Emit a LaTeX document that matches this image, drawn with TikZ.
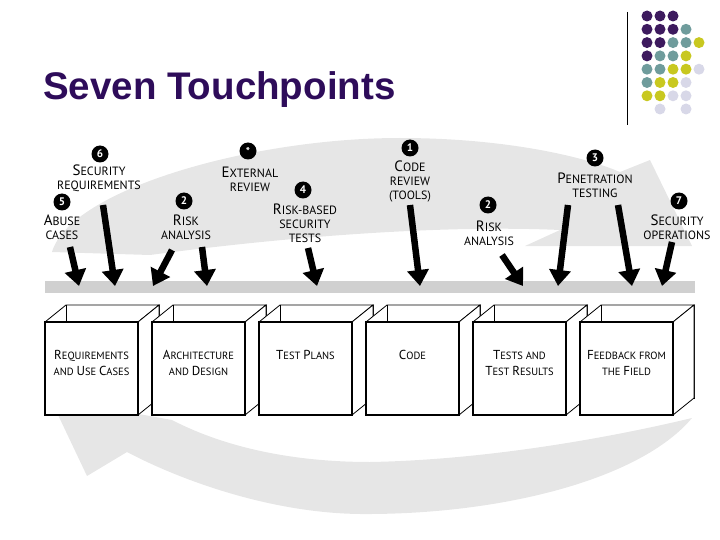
\documentclass[tikz,border=0pt]{standalone}
\usepackage{fontspec}
\newfontfamily\arialf{Liberation Sans}
\newfontfamily\labf{PT Sans}
\usetikzlibrary{arrows.meta}
\definecolor{pur}{HTML}{3D1A5E}
\definecolor{tpur}{HTML}{2E0C5A}
\definecolor{tea}{HTML}{6F9C9C}
\definecolor{yel}{HTML}{C8C820}
\definecolor{lav}{HTML}{D8D8E8}
\definecolor{band}{HTML}{E6E6E6}
\definecolor{bar}{HTML}{D0D0D0}
\newcommand{\I}[1]{{\fontsize{15}{14}\selectfont #1}}
\newcommand{\J}[1]{{\fontsize{13}{14}\selectfont #1}}
\begin{document}
\begin{tikzpicture}[x=1pt,y=-1pt,
  lab/.style={font=\labf\fontsize{12}{14}\selectfont, align=center, inner sep=0pt},
  blab/.style={font=\labf\fontsize{10.5}{16}\selectfont, align=center, inner sep=0pt},
  num/.style={circle, fill=black, text=white, inner sep=0pt, minimum size=17pt, font=\labf\bfseries\fontsize{11}{11}\selectfont},
  blk/.style={line width=6.5pt, -{Triangle[length=16pt,width=21pt]}},
  dot/.style={circle, inner sep=0pt, minimum size=11pt}]
\useasboundingbox (0,0) rectangle (720,540);
% title
\node[anchor=base west, text=tpur, inner sep=0pt, font=\arialf\bfseries\fontsize{38.5}{38}\selectfont] (title) at (43,100) {Seven Touchpoints};
\draw[line width=0.8pt] (627,12) -- (627,125);
% dots
\foreach \r/\row in {0/{pur,pur,pur},1/{pur,pur,pur,tea},2/{pur,pur,tea,tea,yel},3/{pur,tea,tea,yel},4/{tea,tea,yel,yel,lav},5/{tea,yel,yel,lav},6/{yel,yel,lav,lav}}{
  \foreach \c [count=\i from 0] in \row {
    \node[dot, fill=\c] (d\r\i) at (647+13*\i,16+13.3*\r) {};
  }
}
\node[dot, fill=lav] (d71) at (660,109) {};
\node[dot, fill=lav] (d73) at (686,109) {};
% big gray loop arrows
\fill[band] (52,252) .. controls (70,190) and (250,138) .. (400,138)
  .. controls (500,138) and (580,155) .. (620,172) -- (650,160) -- (692,246) -- (525,246)
  -- (560,230) .. controls (450,225) and (300,235) .. (150,255) -- cycle;
\fill[band] (692,418) .. controls (640,480) and (500,515) .. (360,514)
  .. controls (270,513) and (180,480) .. (127,452) -- (87,476) -- (50,398) -- (172,420)
  .. controls (230,450) and (300,462) .. (370,462)
  .. controls (480,460) and (600,440) .. (692,418) -- cycle;
% bar
\fill[bar] (45,281) rectangle (695,293);
% boxes
\foreach \x/\t [count=\k] in {45/{\J{R}EQUIREMENTS\\AND \J{U}SE \J{C}ASES},152/{\J{A}RCHITECTURE\\AND \J{D}ESIGN},259/{\J{T}EST \J{P}LANS\\\mbox{}},366/{\J{C}ODE\\\mbox{}},473/{\J{T}ESTS AND\\\J{T}EST \J{R}ESULTS},580/{\J{F}EEDBACK FROM\\THE \J{F}IELD}}{
  \filldraw[fill=bar!60, line width=0.8pt] (\x+21,305) rectangle (\x+114,398);
  \filldraw[fill=white, line width=0.8pt] (\x,322) -- (\x+21,305) -- (\x+114,305) -- (\x+93,322) -- cycle;
  \filldraw[fill=white, line width=0.8pt] (\x+93,322) -- (\x+114,305) -- (\x+114,398) -- (\x+93,415) -- cycle;
  \draw[line width=0.6pt] (\x+21,305) -- (\x+21,322);
  \draw[fill=white, line width=1.2pt] (\x,322) rectangle (\x+93,415);
  \node[blab, anchor=north] (b\k) at (\x+46.5,350) {\t};
}
% labels
\node[num] (n6) at (100,154) {6};
\node[lab] (l6) at (99,178) {\I{S}ECURITY\\REQUIREMENTS};
\node[num] (ns) at (248,151) {*};
\node[lab] (ls) at (250,179) {\I{E}XTERNAL\\REVIEW};
\node[num] (n5) at (62,202) {5};
\node[lab] (l5) at (62,227) {\I{A}BUSE\\CASES};
\node[num] (n2) at (184,201) {2};
\node[lab] (l2) at (186,227) {\I{R}ISK\\ANALYSIS};
\node[num] (n4) at (303,190) {4};
\node[lab] (l4) at (305,223) {\I{R}ISK-BASED\\SECURITY\\TESTS};
\node[num] (n1) at (410,148) {1};
\node[lab] (l1) at (410,181) {\I{C}ODE\\REVIEW\\(TOOLS)};
\node[num] (n2b) at (488,205) {2};
\node[lab] (l2b) at (489,233) {\I{R}ISK\\ANALYSIS};
\node[num] (n3) at (595,158) {3};
\node[lab] (l3) at (595,185) {\I{P}ENETRATION\\TESTING};
\node[num] (n7) at (679,201) {7};
\node[lab] (l7) at (677,227) {\I{S}ECURITY\\OPERATIONS};
% black arrows
\foreach \a/\b/\c/\d [count=\k] in {70/247/79/286, 103/205/115/286, 172/250/153/286, 202/247/207/286, 308/248/317/286, 410/205/420/286, 502/255/523/286, 568/205/558/286, 618/205/632/286, 672/242/662/286}{
  \coordinate (s\k) at (\a,\b); \coordinate (e\k) at (\c,\d);
  \draw[blk] (s\k) -- (e\k);
}
\end{tikzpicture}
\end{document}
